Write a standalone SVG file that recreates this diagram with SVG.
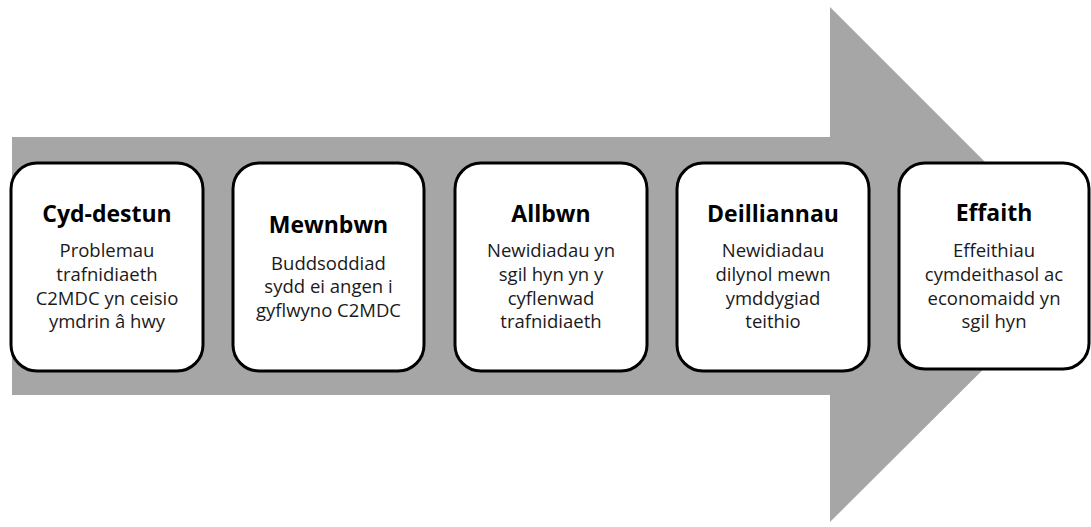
<svg xmlns="http://www.w3.org/2000/svg" width="1091" height="527" viewBox="0 0 1091 527">
<style>
.box{fill:#fff;stroke:#000;stroke-width:3}
.t{font-family:"Open Sans","Noto Sans",sans-serif;font-weight:bold;font-size:23px;fill:#000;text-anchor:middle}
.b{font-family:"Open Sans","Noto Sans",sans-serif;font-size:18.5px;fill:#1a1a1a;text-anchor:middle}
</style>
<rect width="1091" height="527" fill="#fff"/>
<g id="arrow">
<polygon points="12,137 830,137 830,7 1088,265 830,522 830,395 12,395" fill="#a6a6a6"/>
</g>
<g id="connectors"></g>
<g id="node-cyd-destun">
<rect class="box" x="11" y="163" width="192" height="208" rx="26"/>
<text class="t" x="107" y="222">Cyd-destun</text>
<text class="b" x="107" y="257">Problemau</text>
<text class="b" x="107" y="281">trafnidiaeth</text>
<text class="b" x="107" y="305">C2MDC yn ceisio</text>
<text class="b" x="107" y="328">ymdrin â hwy</text>
</g>
<g id="node-mewnbwn">
<rect class="box" x="233" y="163" width="191" height="208" rx="26"/>
<text class="t" x="328.5" y="233">Mewnbwn</text>
<text class="b" x="328.5" y="270">Buddsoddiad</text>
<text class="b" x="328.5" y="293">sydd ei angen i</text>
<text class="b" x="328.5" y="317">gyflwyno C2MDC</text>
</g>
<g id="node-allbwn">
<rect class="box" x="455" y="163" width="192" height="208" rx="26"/>
<text class="t" x="551" y="222">Allbwn</text>
<text class="b" x="551" y="257">Newidiadau yn</text>
<text class="b" x="551" y="281">sgil hyn yn y</text>
<text class="b" x="551" y="305">cyflenwad</text>
<text class="b" x="551" y="328">trafnidiaeth</text>
</g>
<g id="node-deilliannau">
<rect class="box" x="677" y="163" width="192" height="208" rx="26"/>
<text class="t" x="773" y="222">Deilliannau</text>
<text class="b" x="773" y="257">Newidiadau</text>
<text class="b" x="773" y="281">dilynol mewn</text>
<text class="b" x="773" y="305">ymddygiad</text>
<text class="b" x="773" y="328">teithio</text>
</g>
<g id="node-effaith">
<rect class="box" x="899" y="163" width="190" height="206" rx="26"/>
<text class="t" x="994" y="221">Effaith</text>
<text class="b" x="994" y="257">Effeithiau</text>
<text class="b" x="994" y="281">cymdeithasol ac</text>
<text class="b" x="994" y="305">economaidd yn</text>
<text class="b" x="994" y="328">sgil hyn</text>
</g>
</svg>
